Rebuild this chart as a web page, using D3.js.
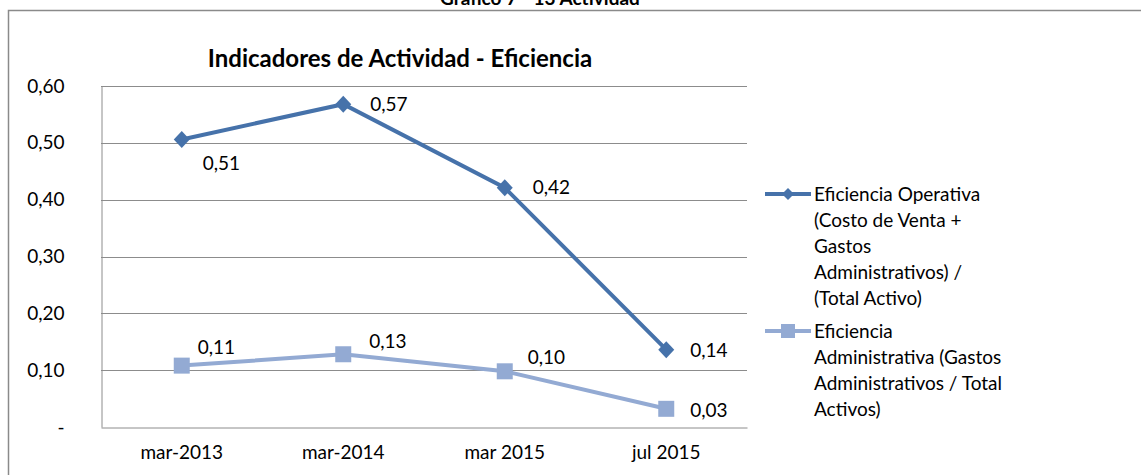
<!DOCTYPE html>
<html>
<head>
<meta charset="utf-8">
<script src="https://cdn.jsdelivr.net/npm/d3@7"></script>
<style>
  body { margin: 0; background: #fff; }
  svg { display: block; font-family: Lato, "Open Sans", sans-serif; }
</style>
</head>
<body>
<svg id="chart" width="1141" height="475"></svg>
<script>
// Indicadores de Actividad - Eficiencia

const categories = ["mar-2013", "mar-2014", "mar 2015", "jul 2015"];
const operativa = [0.506, 0.568, 0.421, 0.136];
const administrativa = [0.108, 0.128, 0.098, 0.032];
const yTicks = [0, 0.1, 0.2, 0.3, 0.4, 0.5, 0.6];
const legendOperativa = ["Eficiencia Operativa", "(Costo de Venta +", "Gastos", "Administrativos) /", "(Total Activo)"];
const legendAdministrativa = ["Eficiencia", "Administrativa (Gastos", "Administrativos / Total", "Activos)"];

const svg = d3.select("#chart");
const W = 1141, H = 475;
const plot = { left: 101, right: 747, top: 86, bottom: 427 };

const blue = "#4672aa";
const light = "#93aad3";
const grid = "#8c8c8c";
const fontSize = 19;

// outer frame
svg.append("path")
  .attr("d", `M8.5,${H}V10.5H${W}`)
  .attr("fill", "none")
  .attr("stroke", "#8a8a8a")
  .attr("stroke-width", 1.5);

// caption above the frame, cut by the top edge as in the source
svg.append("text")
  .attr("x", 540).attr("y", 5)
  .attr("text-anchor", "middle")
  .attr("font-size", 19).attr("font-weight", "bold")
  .text("Gráfico 7 - 13 Actividad");

svg.append("text")
  .attr("x", 400).attr("y", 67)
  .attr("text-anchor", "middle")
  .attr("font-size", 24).attr("font-weight", "bold")
  .attr("fill", "#000")
  .text("Indicadores de Actividad - Eficiencia");

const x = d3.scaleBand().domain(categories).range([plot.left, plot.right]);
const y = d3.scaleLinear().domain([0, 0.6]).range([plot.bottom, plot.top]);
const cx = (c) => x(c) + x.bandwidth() / 2;

// gridlines
svg.append("g")
  .selectAll("line")
  .data(yTicks.filter((d) => d > 0))
  .join("line")
  .attr("x1", plot.left).attr("x2", plot.right)
  .attr("y1", (d) => Math.round(y(d)) + 0.5)
  .attr("y2", (d) => Math.round(y(d)) + 0.5)
  .attr("stroke", grid);

// y axis
const yAxis = svg.append("g")
  .attr("transform", `translate(${plot.left + 0.5},0)`)
  .call(d3.axisLeft(y).tickValues(yTicks).tickSize(0).tickPadding(37)
    .tickFormat((d) => d === 0 ? "-" : d3.format(".2f")(d).replace(".", ",")));
yAxis.select(".domain").attr("stroke", grid);
yAxis.selectAll("text").attr("font-size", fontSize).attr("font-family", "Lato, sans-serif").attr("fill", "#000");

// x axis
const xAxis = svg.append("g")
  .attr("transform", `translate(0,${plot.bottom + 0.5})`)
  .call(d3.axisBottom(x).tickSize(0).tickPadding(18));
xAxis.select(".domain").attr("stroke", grid);
xAxis.selectAll("text").attr("font-size", fontSize).attr("font-family", "Lato, sans-serif").attr("fill", "#000");

const line = d3.line().x((d, i) => cx(categories[i])).y((d) => y(d));
const diamondPath = "M0,-8.5L8,0L0,8.5L-8,0Z";

// series
svg.append("path").datum(administrativa)
  .attr("d", line).attr("fill", "none")
  .attr("stroke", light).attr("stroke-width", 4);
svg.append("g").selectAll("rect")
  .data(administrativa).join("rect")
  .attr("x", (d, i) => cx(categories[i]) - 8)
  .attr("y", (d) => y(d) - 8)
  .attr("width", 16).attr("height", 16)
  .attr("fill", light);

svg.append("path").datum(operativa)
  .attr("d", line).attr("fill", "none")
  .attr("stroke", blue).attr("stroke-width", 4);
svg.append("g").selectAll("path")
  .data(operativa).join("path")
  .attr("d", diamondPath)
  .attr("transform", (d, i) => `translate(${cx(categories[i])},${y(d)})`)
  .attr("fill", blue);

// data labels (offsets relative to the point)
const fmt = (v) => d3.format(".2f")(v).replace(".", ",");
const opOffsets = [[21, 31], [27, 7], [28, 6], [24, 7]];
const adOffsets = [[16, -12], [26, -6], [23, -7], [24, 8]];
function labels(values, offsets) {
  svg.append("g").selectAll("text")
    .data(values).join("text")
    .attr("x", (d, i) => cx(categories[i]) + offsets[i][0])
    .attr("y", (d, i) => y(d) + offsets[i][1])
    .attr("font-size", fontSize)
    .attr("fill", "#000")
    .text(fmt);
}
labels(operativa, opOffsets);
labels(administrativa, adOffsets);

// legend
function legendItem(lines, top, color, shape) {
  const g = svg.append("g");
  g.append("line")
    .attr("x1", 765).attr("x2", 811)
    .attr("y1", top).attr("y2", top)
    .attr("stroke", color).attr("stroke-width", 4);
  if (shape === "diamond") {
    g.append("path").attr("d", "M0,-6L6,0L0,6L-6,0Z")
      .attr("transform", `translate(788,${top})`).attr("fill", color);
  } else {
    g.append("rect").attr("x", 781).attr("y", top - 7)
      .attr("width", 14).attr("height", 14).attr("fill", color);
  }
  g.selectAll("text").data(lines).join("text")
    .attr("x", 814)
    .attr("y", (d, i) => top + 7 + i * 26)
    .attr("font-size", fontSize)
    .attr("fill", "#000")
    .text((d) => d);
}
legendItem(legendOperativa, 194, blue, "diamond");
legendItem(legendAdministrativa, 331, light, "square");
</script>
</body>
</html>
